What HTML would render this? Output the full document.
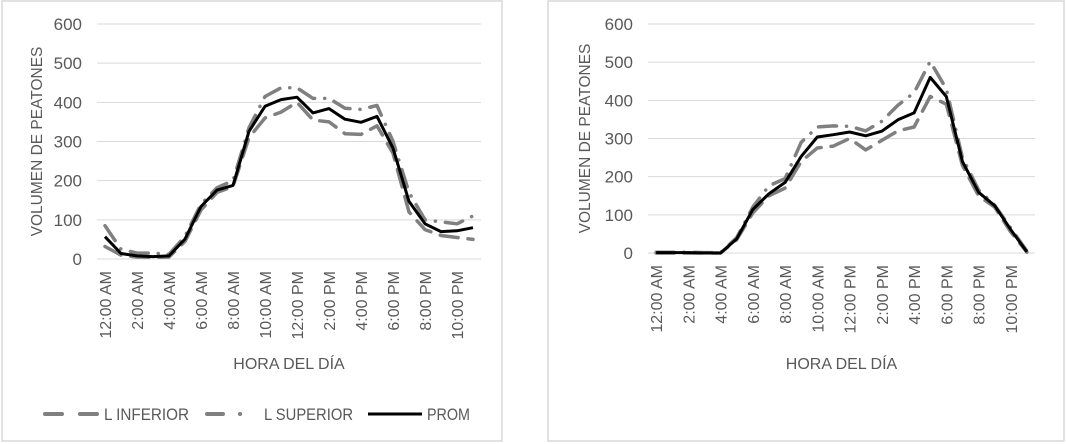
<!DOCTYPE html>
<html><head><meta charset="utf-8">
<style>
html,body{margin:0;padding:0;background:#fff;width:1066px;height:444px;overflow:hidden;font-family:"Liberation Sans",sans-serif;}
svg{position:absolute;left:0;top:0}
text{font-family:"Liberation Sans",sans-serif;fill:#595959}
</style></head><body>
<svg id="s" width="1066" height="444"></svg>
<script>
const hours = ["12:00 AM","1:00 AM","2:00 AM","3:00 AM","4:00 AM","5:00 AM","6:00 AM","7:00 AM","8:00 AM","9:00 AM","10:00 AM","11:00 AM","12:00 PM","1:00 PM","2:00 PM","3:00 PM","4:00 PM","5:00 PM","6:00 PM","7:00 PM","8:00 PM","9:00 PM","10:00 PM","11:00 PM"];
const yTicks = [0,100,200,300,400,500,600];
const leftProm = [57,14,8,6,8,51,134,176,188,326,390,407,413,373,384,357,349,364,283,147,90,70,72,80];
const leftInf  = [32,10,5,4,5,45,125,170,185,310,360,375,400,355,350,320,318,340,270,120,75,60,55,50];
const leftSup  = [85,25,15,15,12,58,140,182,200,335,415,437,437,410,410,385,382,392,300,170,100,95,90,110];
const rightProm = [1,1,1,0,0,37,114,155,185,253,304,310,317,307,319,349,367,460,410,240,159,124,61,3];
const rightInf  = [0,0,0,0,0,35,105,150,170,240,275,280,300,270,295,320,330,410,390,230,150,120,55,2];
const rightSup  = [2,2,2,1,1,40,120,176,195,290,330,333,332,320,345,387,420,502,430,250,165,125,65,5];

const NS="http://www.w3.org/2000/svg";
const svg=document.getElementById('s');
function mk(tag,attrs,parent,txt){const e=document.createElementNS(NS,tag);for(const k in attrs)e.setAttribute(k,attrs[k]);if(txt!==undefined)e.textContent=txt;(parent||svg).appendChild(e);return e;}

function drawChart(prefix,box,plot,inf,sup,prom){
  const g=mk('g',{});
  
  
  const fr=mk('rect',{x:box.x,y:box.y,width:box.w,height:box.h,fill:'#fff',stroke:'#d9d9d9','stroke-width':1.5},g);
  
  
  const n=hours.length, cw=(plot.x1-plot.x0)/n;
  const xs=i=>plot.x0+cw*(i+0.5);
  const ys=v=>plot.y0-(v/600)*(plot.y0-plot.yTop);
  yTicks.forEach(t=>{
    const l=mk('line',{x1:plot.x0,x2:plot.x1,y1:ys(t),y2:ys(t),stroke:'#d9d9d9','stroke-width':1},g);
    
    
    const tx=mk('text',{x:plot.x0-15,y:ys(t)+6,'text-anchor':'end','font-size':17},g,String(t));
    
    
  });
  hours.forEach((h,i)=>{
    if(i%2) return;
    const x=xs(i)+6, y=plot.y0+12;
    const tx=mk('text',{x:x,y:y,'text-anchor':'end','font-size':16,transform:`rotate(-90 ${x} ${y})`},g,h);
    
    
  });
  const ycx=box.x+plot.ytx, ycy=(plot.y0+plot.yTop)/2;
  const yt=mk('text',{x:ycx,y:ycy,'text-anchor':'middle','font-size':15.5,transform:`rotate(-90 ${ycx} ${ycy})`},g,'VOLUMEN DE PEATONES');
  
  
  const xt=mk('text',{x:(plot.x0+plot.x1)/2,y:369,'text-anchor':'middle','font-size':16},g,'HORA DEL DÍA');
  
  
  const pts=a=>a.map((v,i)=>xs(i).toFixed(1)+','+ys(v).toFixed(1)).join(' ');
  const s1=mk('polyline',{points:pts(inf),fill:'none',stroke:'#808080','stroke-width':3.5,'stroke-dasharray':'18 10','stroke-linecap':'round','stroke-linejoin':'round'},g);
  
  
  const s2=mk('polyline',{points:pts(sup),fill:'none',stroke:'#808080','stroke-width':3.5,'stroke-dasharray':'18 10 0.1 10','stroke-linecap':'round','stroke-linejoin':'round'},g);
  
  
  const s3=mk('polyline',{points:pts(prom),fill:'none',stroke:'#000','stroke-width':3,'stroke-linejoin':'round'},g);
  
  
  const lx=box.x+plot.lx, ly=414;
  const lg=mk('g',{},g);
  
  
  mk('line',{x1:lx+43,x2:lx+100,y1:ly,y2:ly,stroke:'#808080','stroke-width':4,'stroke-dasharray':'17 18','stroke-linecap':'round'},lg);
  mk('text',{x:lx+102,y:ly+6,'font-size':17,textLength:85,lengthAdjust:'spacingAndGlyphs'},lg,'L INFERIOR');
  mk('line',{x1:lx+205,x2:lx+240,y1:ly,y2:ly,stroke:'#808080','stroke-width':4,'stroke-dasharray':'16 17 0.1 100','stroke-linecap':'round'},lg);
  mk('text',{x:lx+262,y:ly+6,'font-size':17,textLength:89,lengthAdjust:'spacingAndGlyphs'},lg,'L SUPERIOR');
  mk('line',{x1:lx+366,x2:lx+420,y1:ly,y2:ly,stroke:'#000','stroke-width':3},lg);
  mk('text',{x:lx+425,y:ly+6,'font-size':17,textLength:43,lengthAdjust:'spacingAndGlyphs'},lg,'PROM');
}
drawChart('left',{x:2,y:1,w:500,h:440},{x0:97,x1:481,y0:259,yTop:24,ytx:40,lx:0},leftInf,leftSup,leftProm);
drawChart('right',{x:548,y:1,w:516,h:440},{x0:648,x1:1035,y0:253,yTop:24,ytx:42,lx:550},rightInf,rightSup,rightProm);
</script>
</body></html>
